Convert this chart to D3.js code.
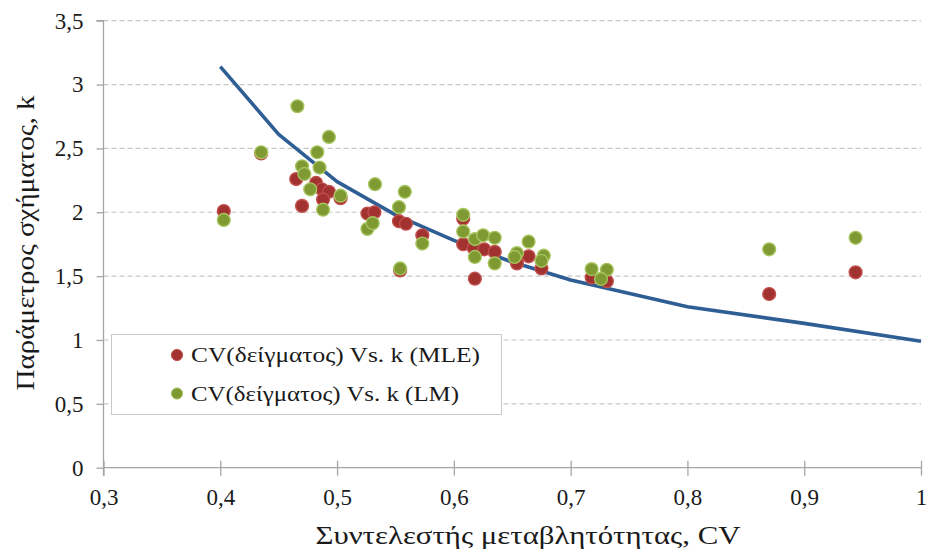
<!DOCTYPE html>
<html><head><meta charset="utf-8">
<script src="https://cdn.jsdelivr.net/npm/d3@7"></script>
<style>body{margin:0;background:#fff}svg{display:block}</style>
</head><body>
<svg id="c" width="927" height="551"></svg>
<script>
const mleX = [0.403,0.435,0.465,0.470,0.482,0.487,0.493,0.488,0.503,0.526,0.532,0.553,0.559,0.554,0.573,0.608,0.608,0.617,0.626,0.635,0.618,0.664,0.654,0.675,0.718,0.731,0.870,0.944];
const mleY = [2.01,2.46,2.26,2.05,2.23,2.18,2.16,2.10,2.11,1.99,2.00,1.93,1.91,1.545,1.82,1.95,1.75,1.72,1.71,1.69,1.48,1.655,1.60,1.56,1.49,1.46,1.36,1.53];
const lmX = [0.403,0.435,0.466,0.470,0.472,0.477,0.483,0.485,0.488,0.493,0.503,0.526,0.5305,0.5325,0.553,0.554,0.558,0.573,0.608,0.608,0.618,0.625,0.635,0.618,0.635,0.664,0.654,0.652,0.677,0.675,0.718,0.731,0.726,0.870,0.944];
const lmY = [1.94,2.47,2.83,2.36,2.30,2.18,2.47,2.35,2.02,2.59,2.13,1.87,1.915,2.22,2.04,1.56,2.16,1.755,1.98,1.85,1.79,1.82,1.80,1.65,1.60,1.77,1.68,1.65,1.66,1.62,1.555,1.55,1.478,1.71,1.80];
const curveX = [0.40,0.45,0.50,0.55,0.60,0.65,0.70,0.80,0.90,1.00];
const curveY = [3.14,2.61,2.24,1.98,1.78,1.61,1.47,1.26,1.13,0.99];
const xTicks = [0.3,0.4,0.5,0.6,0.7,0.8,0.9,1.0];
const yTicks = [0,0.5,1,1.5,2,2.5,3,3.5];
const legendLabels = ["CV(δείγματος) Vs. k (MLE)","CV(δείγματος) Vs. k (LM)"];
const xTitle = "Συντελεστής μεταβλητότητας, CV";
const yTitle = "Παράμετρος σχήματος, k";

const svg = d3.select("#c");
const x = d3.scaleLinear().domain([0.3,1.0]).range([103.5,921]);
const y = d3.scaleLinear().domain([0,3.5]).range([467.7,20.7]);
const fmt = d => String(d3.format("~g")(d)).replace(".", ",");
const serif = "'Liberation Serif','DejaVu Serif',serif";

// gridlines
svg.append("g").selectAll("line").data(yTicks.filter(d=>d>0)).join("line")
  .attr("x1", x(0.3)).attr("x2", x(1.0)).attr("y1", d=>y(d)).attr("y2", d=>y(d))
  .attr("stroke","#c6c6c6").attr("stroke-width",1.2).attr("stroke-dasharray","5,3");

// y axis
const ya = svg.append("g").attr("transform",`translate(${x(0.3)},0)`)
  .call(d3.axisLeft(y).tickValues(yTicks).tickFormat(fmt).tickSize(7).tickPadding(13));
ya.select(".domain").attr("stroke","#a6a6a6").attr("stroke-width",1.3).attr("d",`M-7,${y(3.5)}H0V${y(0)+8}`);
ya.selectAll(".tick line").attr("stroke","#a6a6a6").attr("stroke-width",1.3);
ya.selectAll(".tick text").attr("font-family",serif).attr("font-size",23).attr("fill","#1a1a1a");

// x axis
const xa = svg.append("g").attr("transform",`translate(0,${y(0)})`)
  .call(d3.axisBottom(x).tickValues(xTicks).tickFormat(fmt).tickSize(8).tickPadding(13));
xa.select(".domain").attr("stroke","#a6a6a6").attr("stroke-width",1.3).attr("d",`M${x(0.3)},0H${x(1.0)}`);
xa.selectAll(".tick line").attr("stroke","#a6a6a6").attr("stroke-width",1.3).attr("y1",-7).attr("y2",8);
xa.selectAll(".tick text").attr("font-family",serif).attr("font-size",23).attr("fill","#1a1a1a");

// curve
svg.append("path").datum(curveX.map((v,i)=>[v,curveY[i]]))
  .attr("d", d3.line().x(d=>x(d[0])).y(d=>y(d[1])))
  .attr("fill","none").attr("stroke","#2f5e95").attr("stroke-width",3.6).attr("stroke-linejoin","round");

function dots(xs, ys, fill, stroke){
  svg.append("g").selectAll("circle").data(xs.map((v,i)=>[v,ys[i]])).join("circle")
    .attr("cx",d=>x(d[0])).attr("cy",d=>y(d[1])).attr("r",6.4)
    .attr("fill",fill).attr("stroke",stroke).attr("stroke-width",1.4);
}
dots(mleX, mleY, "#a2322f", "#c0504d");
dots(lmX, lmY, "#7f9a33", "#a6c45e");

// legend
const lg = svg.append("g");
lg.append("rect").attr("x",111.5).attr("y",334.5).attr("width",390).attr("height",80)
  .attr("fill","#fff").attr("stroke","#c8c8c8").attr("stroke-width",1);
const lcol = [["#a2322f","#c0504d"],["#7f9a33","#a6c45e"]];
const lLen = [289, 268];
legendLabels.forEach((t,i)=>{
  const cy = 355 + i*38.5;
  lg.append("circle").attr("cx",177).attr("cy",cy).attr("r",5.6).attr("fill",lcol[i][0]).attr("stroke",lcol[i][1]).attr("stroke-width",1);
  lg.append("text").attr("x",191).attr("y",cy+7).attr("font-family",serif).attr("font-size",21).attr("fill","#1a1a1a")
    .attr("textLength",lLen[i]).attr("lengthAdjust","spacingAndGlyphs").text(t);
});

// titles
svg.append("text").attr("x",528).attr("y",544).attr("text-anchor","middle")
  .attr("font-family",serif).attr("font-size",25).attr("fill","#1a1a1a")
  .attr("textLength",425).attr("lengthAdjust","spacingAndGlyphs").text(xTitle);
svg.append("text").attr("transform","translate(34,243) rotate(-90)").attr("text-anchor","middle")
  .attr("font-family",serif).attr("font-size",25).attr("fill","#1a1a1a")
  .attr("textLength",295).attr("lengthAdjust","spacingAndGlyphs").text(yTitle);
</script>
</body></html>
